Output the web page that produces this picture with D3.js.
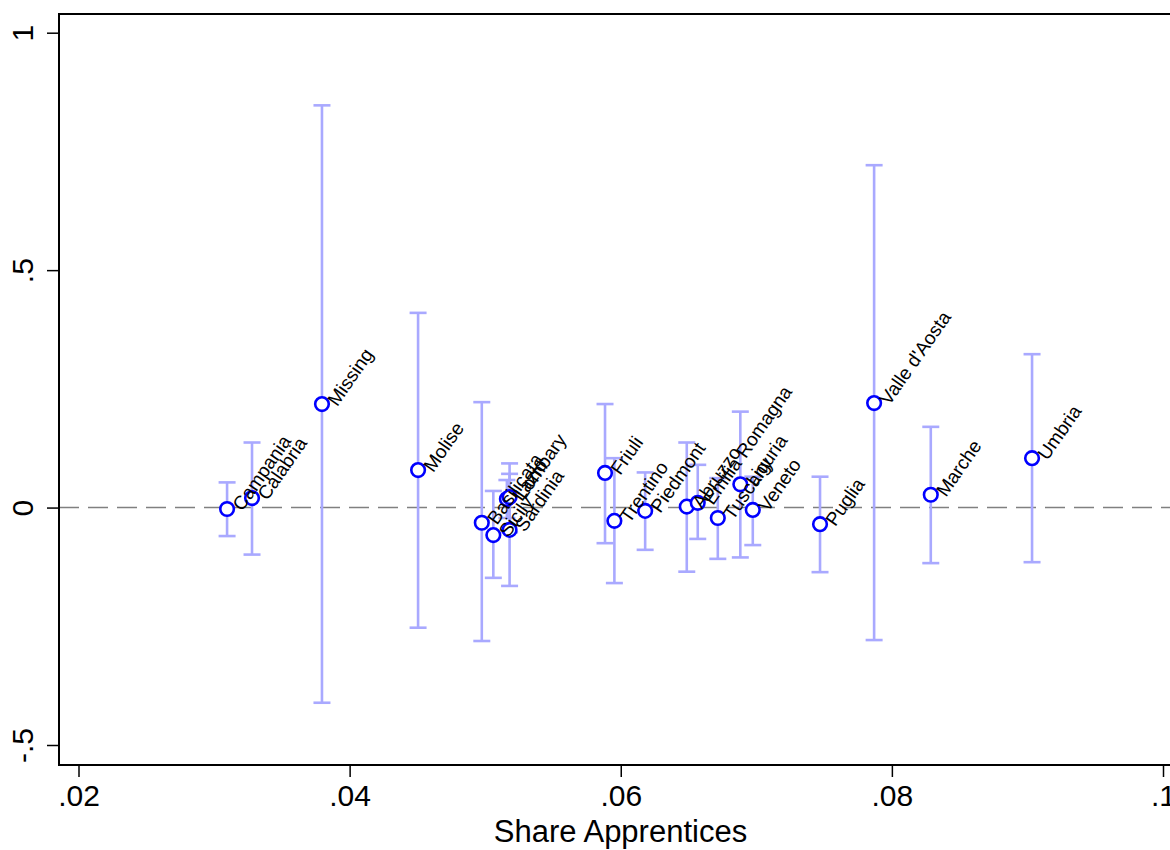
<!DOCTYPE html>
<html>
<head>
<meta charset="utf-8">
<script src="https://cdn.jsdelivr.net/npm/d3@7"></script>
<style>
  html, body { margin: 0; padding: 0; background: #ffffff; }
  svg { display: block; font-family: "Liberation Sans", Arial, Helvetica, sans-serif; }
</style>
</head>
<body>
<svg id="chart" width="1170" height="850"></svg>
<script>
const regions = ["Campania","Calabria","Missing","Molise","Basilicata","Sicily","Lazio","Lombary","Sardinia","Friuli","Trentino","Piedmont","Abruzzo","Emilia Romagna","Tuscany","Liguria","Veneto","Puglia","Valle d'Aosta","Marche","Umbria"];
const shareApprentices = [0.03096,0.0328,0.03796,0.04505,0.04975,0.0506,0.0516,0.0518,0.0518,0.05884,0.05953,0.0618,0.06487,0.06568,0.06716,0.06882,0.06974,0.0747,0.07869,0.08287,0.09034];
const effect = [-0.003,0.020,0.218,0.079,-0.032,-0.058,0.018,0.022,-0.047,0.073,-0.028,-0.007,0.002,0.010,-0.022,0.049,-0.005,-0.035,0.220,0.027,0.104];
const ciLow  = [-0.060,-0.099,-0.411,-0.253,-0.281,-0.148,-0.022,-0.052,-0.165,-0.075,-0.159,-0.089,-0.135,-0.066,-0.108,-0.105,-0.079,-0.136,-0.279,-0.117,-0.115];
const ciHigh = [0.053,0.137,0.847,0.410,0.222,0.035,0.058,0.093,0.071,0.218,0.104,0.074,0.137,0.090,0.062,0.202,0.065,0.065,0.721,0.170,0.323];
const xTicks = [0.02,0.04,0.06,0.08,0.1];
const xTickLabels = [".02",".04",".06",".08",".1"];
const yTicks = [-0.5,0,0.5,1];
const yTickLabels = ["-.5","0",".5","1"];
const xTitle = "Share Apprentices";

const data = regions.map((r,i)=>({name:r, x:shareApprentices[i], y:effect[i], lo:ciLow[i], hi:ciHigh[i]}));

const svg = d3.select("#chart");
const x = d3.scaleLinear().domain([0.02,0.1]).range([78.5,1163]);
const y = d3.scaleLinear().domain([-0.5,1]).range([745,32.7]);
const pLeft = 59, pTop = 14, pBottom = 765, pRight = 1182;

// reference line at 0
svg.append("line")
  .attr("x1", pLeft).attr("x2", pRight)
  .attr("y1", y(0)).attr("y2", y(0))
  .attr("stroke", "#808080").attr("stroke-width", 1.6)
  .attr("stroke-dasharray", "20,9");

// CI bars
const ci = svg.append("g").attr("stroke", "#a9a9ff").attr("stroke-width", 2.6).attr("fill","none");
data.forEach(d=>{
  ci.append("line").attr("x1", x(d.x)).attr("x2", x(d.x)).attr("y1", y(d.lo)).attr("y2", y(d.hi));
  ci.append("line").attr("x1", x(d.x)-8.5).attr("x2", x(d.x)+8.5).attr("y1", y(d.lo)).attr("y2", y(d.lo));
  ci.append("line").attr("x1", x(d.x)-8.5).attr("x2", x(d.x)+8.5).attr("y1", y(d.hi)).attr("y2", y(d.hi));
});

// markers
svg.append("g").selectAll("circle").data(data).join("circle")
  .attr("cx", d=>x(d.x)).attr("cy", d=>y(d.y)).attr("r", 6.8)
  .attr("fill", "white").attr("stroke", "#0000ff").attr("stroke-width", 2.6);

// labels
svg.append("g").selectAll("text").data(data).join("text")
  .attr("transform", d=>`translate(${x(d.x)+9},${y(d.y)}) rotate(-55)`)
  .attr("x", 1).attr("dy", "0.36em")
  .attr("font-size", 19).attr("fill", "#000")
  .text(d=>d.name);

// frame
svg.append("rect").attr("x", pLeft).attr("y", pTop).attr("width", pRight-pLeft).attr("height", pBottom-pTop)
  .attr("fill","none").attr("stroke","#000").attr("stroke-width",2);

// x axis
const xAxis = d3.axisBottom(x).tickValues(xTicks).tickFormat((d,i)=>xTickLabels[i]).tickSize(12).tickPadding(8);
const gx = svg.append("g").attr("transform", `translate(0,${pBottom})`).call(xAxis);
gx.select(".domain").remove();
gx.selectAll(".tick line").attr("stroke","#000").attr("stroke-width",1.5);
gx.selectAll(".tick text").attr("font-size", 30).attr("fill","#000").attr("font-family","Liberation Sans, Arial, sans-serif");

// y axis
const yAxis = d3.axisLeft(y).tickValues(yTicks).tickFormat((d,i)=>yTickLabels[i]).tickSize(12).tickPadding(0);
const gy = svg.append("g").attr("transform", `translate(${pLeft},0)`).call(yAxis);
gy.select(".domain").remove();
gy.selectAll(".tick line").attr("stroke","#000").attr("stroke-width",1.5);
gy.selectAll(".tick text")
  .attr("x", null).attr("dy", null)
  .attr("text-anchor","middle")
  .attr("transform","translate(-26,0) rotate(-90)")
  .attr("font-size", 30).attr("fill","#000").attr("font-family","Liberation Sans, Arial, sans-serif");

// x title
svg.append("text").attr("x", (pLeft+pRight)/2).attr("y", 842)
  .attr("text-anchor","middle").attr("font-size", 31).attr("fill","#000")
  .text(xTitle);
</script>
</body>
</html>
